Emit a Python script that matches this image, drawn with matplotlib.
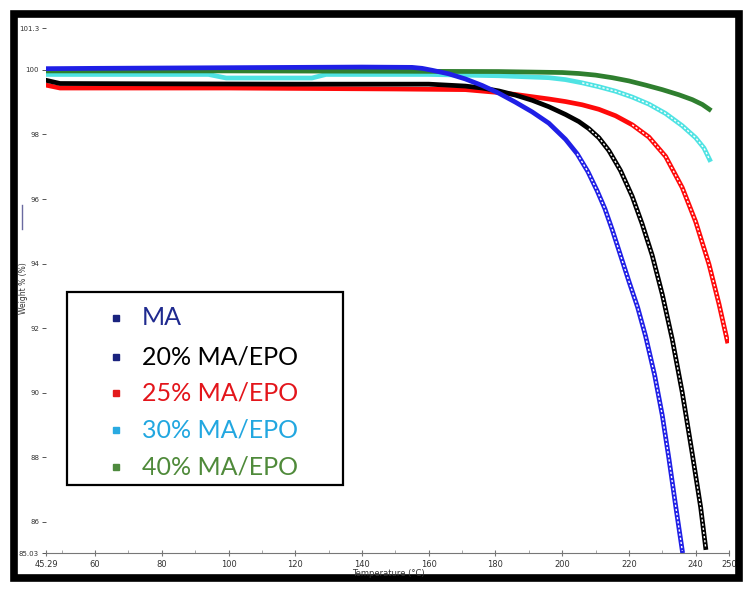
import matplotlib
matplotlib.use("Agg")
import matplotlib.pyplot as plt
from matplotlib.lines import Line2D
from matplotlib.patches import Rectangle

# TGA curves: temperature (°C) vs weight (%)
temp_ma = [45.29, 60, 80, 100, 120, 140, 155, 158, 161, 166, 171, 176, 181, 186, 191, 196, 201,
           204.5, 207.7, 210.5, 212.8, 215, 217.5, 220, 222.6, 225, 227.7, 230, 232, 234, 236]
wt_ma = [100.04, 100.05, 100.06, 100.07, 100.08, 100.09, 100.08, 100.05, 99.99, 99.88, 99.72, 99.52,
         99.28, 99.0, 98.70, 98.35, 97.85, 97.4, 96.85, 96.25, 95.70, 95.05, 94.25, 93.45, 92.65,
         91.75, 90.55, 89.3, 87.95, 86.5, 85.1]

temp_20 = [45.29, 49.5, 80, 120, 160, 171, 176, 181, 186, 191, 196, 201, 205, 208, 211, 214,
           217.5, 221, 224, 227, 230, 233, 236, 239, 241.5, 243]
wt_20 = [99.68, 99.58, 99.57, 99.56, 99.56, 99.50, 99.44, 99.35, 99.22, 99.06, 98.86, 98.62,
         98.40, 98.18, 97.90, 97.50, 96.88, 96.08, 95.22, 94.25, 93.05, 91.65, 90.0, 88.1,
         86.45, 85.2]

temp_25 = [45.29, 49.5, 100, 150, 171, 181, 186, 191, 196, 201, 206, 211, 216, 221, 226,
           231, 236, 240, 244, 247, 249.5]
wt_25 = [99.53, 99.44, 99.44, 99.41, 99.39, 99.30, 99.24, 99.17, 99.10, 99.02, 98.92, 98.78,
         98.58, 98.30, 97.92, 97.32, 96.35, 95.30, 93.98, 92.75, 91.6]

temp_30 = [45.29, 94, 99.3, 125, 129.2, 160, 181, 196, 201, 206, 211, 216, 221, 226, 231,
           236, 240, 242.5, 244.2]
wt_30 = [99.86, 99.86, 99.75, 99.75, 99.86, 99.86, 99.82, 99.76, 99.70, 99.60, 99.48, 99.34,
         99.16, 98.94, 98.65, 98.27, 97.90, 97.58, 97.22]

temp_40 = [45.29, 100, 150, 181, 200, 205, 210, 215, 220, 225, 230, 235, 239, 242, 244.1]
wt_40 = [99.97, 99.97, 99.96, 99.95, 99.92, 99.89, 99.84, 99.76, 99.66, 99.53, 99.39, 99.23,
         99.08, 98.93, 98.78]

labels = ["MA", "20% MA/EPO", "25% MA/EPO", "30% MA/EPO", "40% MA/EPO"]
text_colors = ["#1f2a8f", "#000000", "#e3151b", "#22a7e0", "#4f8a3a"]
marker_colors = ["#1a237e", "#1a237e", "#e31a1c", "#29aae1", "#4e8a3e"]

x_ticks = [45.29, 60, 80, 100, 120, 140, 160, 180, 200, 220, 240, 250]
x_ticklabels = ["45.29", "60", "80", "100", "120", "140", "160", "180", "200", "220", "240", "250"]
y_ticks = [85.03, 86, 88, 90, 92, 94, 96, 98, 100, 101.3]
y_ticklabels = ["85.03", "86", "88", "90", "92", "94", "96", "98", "100", "101.3"]

W, H = 751, 596

fig = plt.figure(figsize=(W / 100, H / 100), dpi=100)
ax = fig.add_axes([46 / W, 1 - 553 / H, (729 - 46) / W, (553 - 28) / H])

# (x, y, colour, index where the steep part with open square markers starts)
series = [
    (temp_30, wt_30, "#4fe3e3", 9),
    (temp_40, wt_40, "#2f7f2f", None),
    (temp_25, wt_25, "#ff0a0a", 13),
    (temp_20, wt_20, "#000000", 13),
    (temp_ma, wt_ma, "#1f1fe6", 17),
]
lw = 3.4
for xs, ys, col, k in series:
    ax.plot(xs, ys, color=col, lw=lw)
    if k is not None:
        # white dashes inside the thick line -> chain of hollow squares look
        ax.plot(xs[k:], ys[k:], color="white", lw=1.0, linestyle=(0, (1.6, 1.4)))

ax.set_xlim(45.29, 250)
ax.set_ylim(85.03, 101.3)
ax.set_xticks(x_ticks)
ax.set_xticklabels(x_ticklabels)
ax.set_xticks(list(range(50, 250, 10)), minor=True)
ax.set_yticks(y_ticks)
ax.set_yticklabels(y_ticklabels)

for side in ["top", "right", "left"]:
    ax.spines[side].set_visible(False)
ax.spines["bottom"].set_color("#777777")
ax.spines["bottom"].set_linewidth(0.8)

ax.tick_params(axis="x", which="major", direction="inout", length=4, width=0.8,
               color="#777777", labelsize=6, labelcolor="#333333", pad=3)
ax.tick_params(axis="x", which="minor", direction="in", length=2, width=0.6, color="#999999")
ax.tick_params(axis="y", direction="out", length=3, width=0.7, color="#555555",
               labelsize=5, labelcolor="#333333", pad=2)

fig.text(388 / W, 1 - 574 / H, "Temperature (°C)", fontsize=6, color="#333333",
         ha="center", va="center")
fig.text(23 / W, 1 - 288 / H, "Weight % (%)", fontsize=5.5, color="#333333",
         ha="center", va="center", rotation=90)

# stray cursor mark at the left
fig.add_artist(Line2D([21.5 / W, 21.5 / W], [1 - 205 / H, 1 - 229 / H],
                      transform=fig.transFigure, color="#6a6aa0", lw=1))

# legend box drawn by hand (big font, wide left padding)
fig.add_artist(Rectangle((67 / W, 1 - 485 / H), 276 / W, 193 / H, transform=fig.transFigure,
                         facecolor="white", edgecolor="black", lw=1.6, zorder=5))
row_y = [318, 357, 393, 430, 467]
for lab, tc, mc, y in zip(labels, text_colors, marker_colors, row_y):
    fig.add_artist(Line2D([116 / W], [1 - y / H], transform=fig.transFigure, marker="s",
                          markersize=5, color=mc, lw=0, zorder=6))
    fig.text(142 / W, 1 - y / H, lab, fontsize=18, family=["Lato", "DejaVu Sans"],
             color=tc, ha="left", va="center", zorder=6)

# thick black frame around the whole picture
fig.add_artist(Rectangle((13.5 / W, 1 - 578 / H), (739 - 13.5) / W, (578 - 14) / H,
                         transform=fig.transFigure, fill=False, edgecolor="black", lw=5.5))

fig.savefig("out.png", dpi=100)
